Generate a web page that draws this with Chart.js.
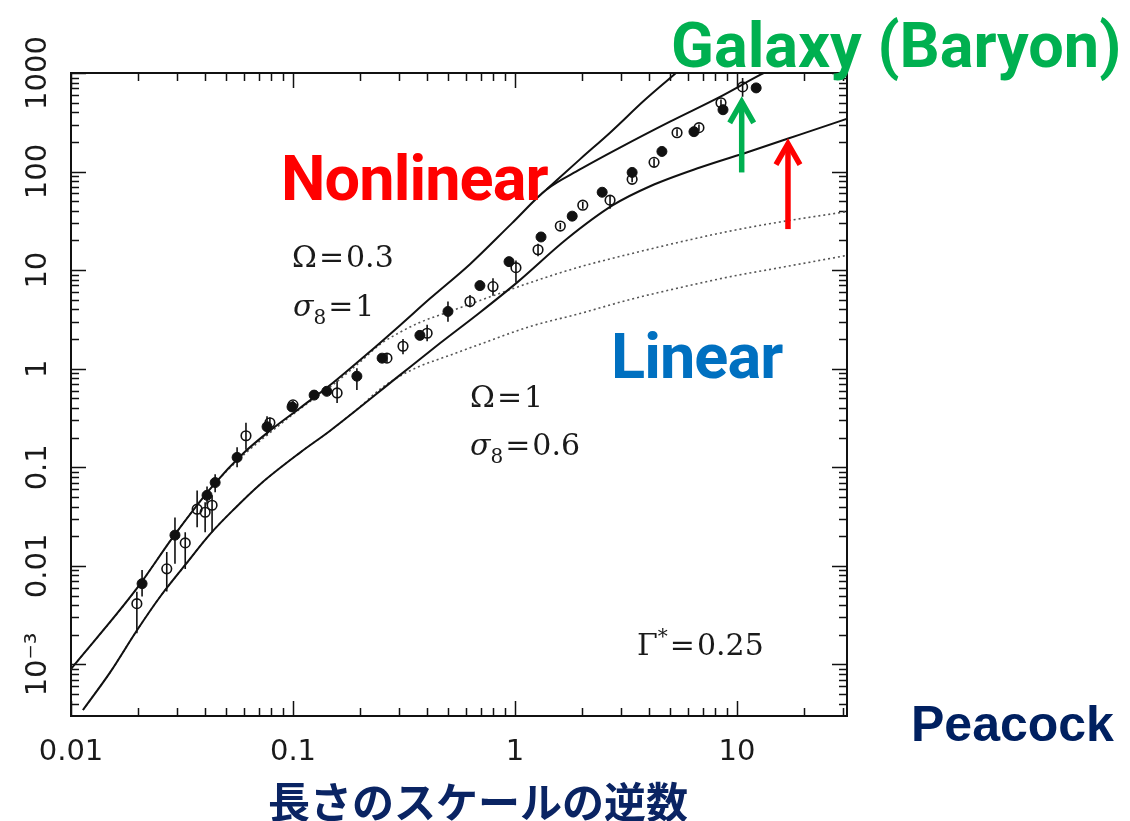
<!DOCTYPE html>
<html>
<head>
<meta charset="utf-8">
<title>Peacock power spectrum</title>
<script src="https://cdn.jsdelivr.net/npm/chart.js@4.4.1/dist/chart.umd.min.js"></script>
<style>
  body { margin: 0; background: #fff; }
  #wrap { position: relative; width: 1130px; height: 821px; overflow: hidden; background: #fff; }
  #wrap canvas { position: absolute; left: 0; top: 0; }
  .note { position: absolute; white-space: nowrap; line-height: 1; }
  .big { font-family: Roboto, sans-serif; font-weight: 700; font-size: 63px; letter-spacing: -0.9px; }
  .tex { font-family: 'DejaVu Serif', serif; font-size: 30px; color: #1a1a1a; }
  .tex sub { font-size: 20px; line-height: 0; vertical-align: -8px; }
  .tex sup { font-size: 20px; line-height: 0; vertical-align: 12px; }
  .tex .eq { margin: 0 2px; }
</style>
</head>
<body>
<div id="wrap">
  <canvas id="chart" width="1130" height="821"></canvas>

  <div class="note big" style="left:281px; top:147px; color:#ff0000;">Nonlinear</div>
  <div class="note big" style="left:611px; top:325px; color:#0070c0;">Linear</div>
  <div class="note" style="left:671px; top:9px; color:#00b050; font:700 63px Roboto, sans-serif;">Galaxy (Baryon)</div>
  <div class="note" style="left:911px; top:695px; color:#002060; font:700 50px 'Liberation Sans', sans-serif;">Peacock</div>
  <div class="note" style="left:268px; top:769px; color:#0a2463; font:700 42px 'Noto Sans CJK JP', sans-serif;">長さのスケールの逆数</div>

  <div class="note tex" style="left:292px; top:242px;">Ω<span class="eq">=</span>0.3</div>
  <div class="note tex" style="left:293px; top:291px;"><i>σ</i><sub>8</sub><span class="eq">=</span>1</div>
  <div class="note tex" style="left:470px; top:382px;">Ω<span class="eq">=</span>1</div>
  <div class="note tex" style="left:470px; top:430px;"><i>σ</i><sub>8</sub><span class="eq">=</span>0.6</div>
  <div class="note tex" style="left:637px; top:630px;">Γ<sup>*</sup><span class="eq">=</span>0.25</div>
</div>

<script>
// axis range and tick labels
const xMin = 0.01, xMax = 31.3;
const yMin = 3.3e-4, yMax = 1000;
const xTickValues = [0.01, 0.1, 1, 10];
const xTickLabels = ['0.01', '0.1', '1', '10'];
const yTickValues = [0.001, 0.01, 0.1, 1, 10, 100, 1000];
const yTickLabels = ['10⁻³', '0.01', '0.1', '1', '10', '100', '1000'];

// Omega=0.3, sigma8=1 nonlinear (solid, flatter branch at high k)
const upperSolidK = [0.01, 0.0198, 0.0288, 0.0437, 0.0596, 0.0787, 0.1076, 0.151, 0.215, 0.303, 0.414, 0.627, 0.97, 1.39, 1.96, 2.97, 4.99, 8.38, 12.7, 17.3];
const upperSolidV = [0.0009, 0.0059, 0.0196, 0.0656, 0.138, 0.235, 0.40, 0.716, 1.40, 2.75, 5.15, 11.5, 30, 66, 105, 175, 321, 573, 955, 1352];
// steeper branch splitting off near k~1.4
const steepK = [1.39, 1.96, 2.68, 3.85, 5.37, 7.55];
const steepV = [66, 133, 248, 534, 1023, 2053];
// Omega=1, sigma8=0.6 nonlinear (solid)
const lowerSolidK = [0.01132, 0.0150, 0.0198, 0.0252, 0.0327, 0.0423, 0.0548, 0.0710, 0.1076, 0.147, 0.303, 0.459, 0.695, 1.02, 1.71, 2.76, 4.06, 6.81, 11.4, 19.2, 32.3];
const lowerSolidV = [0.000345, 0.00083, 0.00221, 0.00486, 0.01023, 0.0210, 0.0385, 0.0671, 0.141, 0.235, 0.861, 1.81, 3.72, 7.47, 20.7, 45.6, 71, 110, 160, 237, 352];
// linear spectra (dotted)
const upperDottedK = [0.01, 0.0198, 0.0288, 0.0437, 0.0596, 0.0787, 0.1076, 0.151, 0.200, 0.247, 0.303, 0.373, 0.509, 0.695, 1.17, 1.96, 3.30, 5.54, 9.29, 15.6, 32.3];
const upperDottedV = [0.0009, 0.0059, 0.0196, 0.0656, 0.132, 0.224, 0.392, 0.684, 1.166, 1.77, 2.34, 2.95, 3.81, 4.92, 7.47, 10.8, 14.6, 19.3, 24.9, 30.8, 39.7];
const lowerDottedK = [0.01132, 0.0150, 0.0198, 0.0252, 0.0327, 0.0423, 0.0548, 0.0710, 0.1076, 0.147, 0.200, 0.247, 0.303, 0.373, 0.509, 0.695, 1.17, 1.96, 3.30, 5.54, 9.29, 15.6, 32.3];
const lowerDottedV = [0.000345, 0.00083, 0.00221, 0.00486, 0.01023, 0.0210, 0.0385, 0.0671, 0.141, 0.235, 0.410, 0.622, 0.841, 1.06, 1.37, 1.77, 2.68, 3.63, 5.04, 6.65, 8.57, 10.6, 14.3];

// measured points: filled circles
const filledK  = [0.0209, 0.0294, 0.041, 0.0446, 0.056, 0.0764, 0.099, 0.1245, 0.142, 0.194, 0.252, 0.373, 0.499, 0.695, 0.94, 1.31, 1.81, 2.47, 3.37, 4.59, 6.40, 8.65, 12.2];
const filledV  = [0.0066, 0.0205, 0.052, 0.070, 0.126, 0.258, 0.41, 0.54, 0.59, 0.84, 1.28, 2.18, 3.81, 6.97, 12.2, 21.7, 35.3, 61.7, 98, 160, 254, 424, 706];
const filledLo = [0.0049, 0.0105, 0.042, 0.056, 0.10, 0.21, 0.37, 0.50, 0.55, 0.61, 1.2, 2.0, 3.0, 6.4, 11, 20, 33, 57, 91, 148, 235, 390, 650];
const filledHi = [0.0091, 0.031, 0.064, 0.085, 0.16, 0.33, 0.46, 0.59, 0.64, 1.01, 1.37, 2.4, 4.8, 7.6, 13.5, 23.5, 38, 67, 106, 172, 275, 460, 770];
// measured points: open circles
const openK  = [0.0198, 0.0270, 0.0327, 0.037, 0.0402, 0.0432, 0.0614, 0.0787, 0.100, 0.158, 0.265, 0.313, 0.402, 0.627, 0.796, 1.01, 1.27, 1.60, 2.02, 2.68, 3.37, 4.23, 5.37, 6.74, 8.47, 10.6];
const openV  = [0.00414, 0.00933, 0.0171, 0.0376, 0.035, 0.0412, 0.209, 0.283, 0.43, 0.568, 1.28, 1.69, 2.29, 4.80, 6.81, 10.6, 16.1, 28.0, 45.6, 51.3, 83.4, 124, 248, 279, 499, 723];
const openLo = [0.00207, 0.0055, 0.0093, 0.0247, 0.022, 0.022, 0.151, 0.25, 0.39, 0.45, 1.15, 1.4, 1.9, 4.2, 5.5, 7.5, 13.8, 26, 42, 42, 78, 112, 230, 260, 460, 573];
const openHi = [0.00547, 0.0138, 0.022, 0.0583, 0.0442, 0.052, 0.283, 0.32, 0.47, 0.75, 1.42, 2.0, 2.8, 5.6, 8.3, 12.5, 18.5, 30, 49, 58, 89, 136, 268, 300, 540, 891];

// annotation arrows (green: galaxy, red: nonlinear)
const arrowK = [10.5, 16.97];
const arrowFrom = [98, 26.1];
const arrowTo = [534, 201];
const arrowColors = ['#00b050', '#ff0000'];

const pts = (ks, vs) => ks.map((k, i) => ({ x: k, y: vs[i] }));
const ink = '#111';

const decor = {
    id: 'decor',
    beforeDatasetsDraw(chart) {
        const { ctx, chartArea: a, scales: { x, y } } = chart;
        ctx.save();
        ctx.strokeStyle = ink;

        // inward ticks on all four sides
        ctx.lineWidth = 1.5;
        ctx.beginPath();
        for (let e = -2; e <= 1; e++) {
            for (let m = 1; m <= 9; m++) {
                const v = m * Math.pow(10, e);
                if (v > xMax) break;
                const px = Math.round(x.getPixelForValue(v)) + 0.5;
                const len = m === 1 ? 15 : 8;
                ctx.moveTo(px, a.bottom); ctx.lineTo(px, a.bottom - len);
                ctx.moveTo(px, a.top); ctx.lineTo(px, a.top + len);
            }
        }
        for (let e = -4; e <= 3; e++) {
            for (let m = 1; m <= 9; m++) {
                const v = m * Math.pow(10, e);
                if (v < yMin || v > yMax) continue;
                const py = Math.round(y.getPixelForValue(v)) + 0.5;
                const len = m === 1 ? 15 : 8;
                ctx.moveTo(a.left, py); ctx.lineTo(a.left + len, py);
                ctx.moveTo(a.right, py); ctx.lineTo(a.right - len, py);
            }
        }
        ctx.stroke();

        // frame
        ctx.lineWidth = 2;
        ctx.strokeRect(a.left, a.top, a.right - a.left, a.bottom - a.top);

        // error bars
        ctx.lineWidth = 1.6;
        ctx.beginPath();
        const bars = (ks, lo, hi) => ks.forEach((k, i) => {
            const px = x.getPixelForValue(k);
            ctx.moveTo(px, y.getPixelForValue(lo[i]));
            ctx.lineTo(px, y.getPixelForValue(hi[i]));
        });
        bars(filledK, filledLo, filledHi);
        bars(openK, openLo, openHi);
        ctx.stroke();
        ctx.restore();
    },
    afterDatasetsDraw(chart) {
        const { ctx, scales: { x, y } } = chart;
        ctx.save();
        ctx.lineWidth = 5.5;
        ctx.lineJoin = 'miter';
        arrowK.forEach((k, i) => {
            const px = x.getPixelForValue(k);
            const y0 = y.getPixelForValue(arrowFrom[i]);
            const y1 = y.getPixelForValue(arrowTo[i]);
            ctx.strokeStyle = arrowColors[i];
            ctx.beginPath();
            ctx.moveTo(px, y0); ctx.lineTo(px, y1 + 2);
            ctx.stroke();
            ctx.beginPath();
            ctx.moveTo(px - 12, y1 + 23); ctx.lineTo(px, y1 + 2); ctx.lineTo(px + 12, y1 + 23);
            ctx.stroke();
        });
        ctx.restore();
    }
};

const curve = (label, ks, vs, dotted) => ({
    label,
    data: pts(ks, vs),
    borderColor: dotted ? '#555' : ink,
    borderWidth: dotted ? 1.6 : 2,
    borderDash: dotted ? [2, 3] : [],
    pointRadius: 0,
    cubicInterpolationMode: 'monotone',
    fill: false
});

const tickFont = { family: "'DejaVu Sans', sans-serif", size: 29 };

new Chart(document.getElementById('chart'), {
    type: 'line',
    data: {
        datasets: [
            { label: 'filled', data: pts(filledK, filledV), showLine: false, pointRadius: 5,
              pointBackgroundColor: ink, pointBorderColor: ink, pointBorderWidth: 1 },
            { label: 'open', data: pts(openK, openV), showLine: false, pointRadius: 4.8,
              pointBackgroundColor: 'rgba(255,255,255,0)', pointBorderColor: ink, pointBorderWidth: 1.6 },
            curve('Ω=0.3 nonlinear', upperSolidK, upperSolidV, false),
            curve('nonlinear (steep)', steepK, steepV, false),
            curve('Ω=1 nonlinear', lowerSolidK, lowerSolidV, false),
            curve('Ω=0.3 linear', upperDottedK, upperDottedV, true),
            curve('Ω=1 linear', lowerDottedK, lowerDottedV, true)
        ]
    },
    options: {
        responsive: false,
        animation: false,
        devicePixelRatio: 1,
        layout: { padding: { top: 73, right: 283, bottom: 0, left: 0 } },
        plugins: { legend: { display: false }, tooltip: { enabled: false } },
        scales: {
            x: {
                type: 'logarithmic', position: 'bottom', min: xMin, max: xMax,
                grid: { display: false, drawTicks: false }, border: { display: false },
                afterBuildTicks: s => { s.ticks = xTickValues.map(v => ({ value: v })); },
                afterFit: s => { s.height = 105; },
                ticks: { autoSkip: false, minRotation: 0, maxRotation: 0, padding: 19,
                         font: tickFont, color: '#1a1a1a',
                         callback: (v, i) => xTickLabels[i] }
            },
            y: {
                type: 'logarithmic', position: 'left', min: yMin, max: yMax,
                grid: { display: false, drawTicks: false }, border: { display: false },
                afterBuildTicks: s => { s.ticks = yTickValues.map(v => ({ value: v })); },
                afterFit: s => { s.width = 71; },
                ticks: { autoSkip: false, minRotation: 90, maxRotation: 90, crossAlign: 'center', padding: -4,
                         font: tickFont, color: '#1a1a1a',
                         callback: (v, i) => yTickLabels[i] }
            }
        }
    },
    plugins: [decor]
});
</script>
</body>
</html>
